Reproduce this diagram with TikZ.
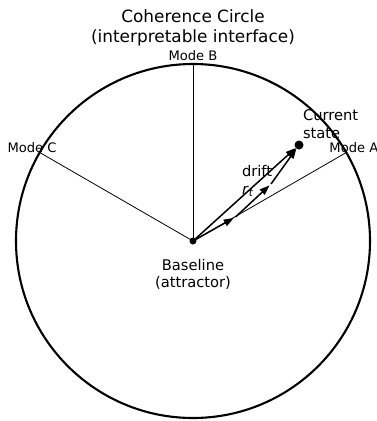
\documentclass[tikz,border=0pt]{standalone}
\usepackage{fontspec}
\setmainfont{DejaVu Sans}
\usetikzlibrary{arrows.meta}
\begin{document}
\begin{tikzpicture}[x=1pt,y=-1pt,
  titlefont/.style={font=\fontsize{16.9}{20.3}\selectfont},
  labelfont/.style={font=\fontsize{14.7}{17.6}\selectfont},
  modefont/.style={font=\fontsize{13.1}{15.7}\selectfont},
  txt/.style={inner sep=0pt, outer sep=0pt},
  rim/.style={line width=2.1pt},
  modeline/.style={line width=0.8pt},
  arr/.style={line width=1.5pt, -{Triangle[length=10pt,width=7pt]}},
  dot/.style={circle, fill=black, inner sep=0pt, outer sep=0pt}]
\useasboundingbox (0,0) rectangle (377,421);
% centre and rim
\node[dot, minimum size=7pt] (O) at (193,241) {};
\draw[rim] (O.center) circle (177);
% mode axes
\coordinate (mA) at (346.3,152.5);
\coordinate (mB) at (193,64);
\coordinate (mC) at (39.7,152.5);
\draw[modeline] (O.center) -- (mA);
\draw[modeline] (O.center) -- (mB);
\draw[modeline] (O.center) -- (mC);
\node[txt, modefont] (lA) at (353.9,148.1) {Mode A};
\node[txt, modefont] (lB) at (193,55.5) {Mode B};
\node[txt, modefont] (lC) at (32.1,148.1) {Mode C};
% current state and drift
\node[dot, minimum size=9pt] (S) at (299,145) {};
\coordinate (P1) at (235.5,217);
\coordinate (P2) at (271,184);
\draw[arr] (O) -- (S);
\draw[arr, shorten >=2pt] (O) -- (P1);
\draw[arr, shorten >=2pt] (P1) -- (P2);
\draw[arr] (P2) -- (S);
% labels
\node[txt, titlefont, align=center, anchor=north] (title) at (193,9.5)
  {Coherence Circle\\(interpretable interface)};
\node[txt, labelfont, align=left, anchor=north west] (cs) at (303,110)
  {Current\\state};
\node[txt, labelfont, align=left, anchor=north west] (drift) at (242,165.8)
  {drift\\\textit{r}\textsubscript{\textit{t}}};
\node[txt, labelfont, align=center, anchor=north] (base) at (193,259)
  {Baseline\\(attractor)};
\end{tikzpicture}
\end{document}
